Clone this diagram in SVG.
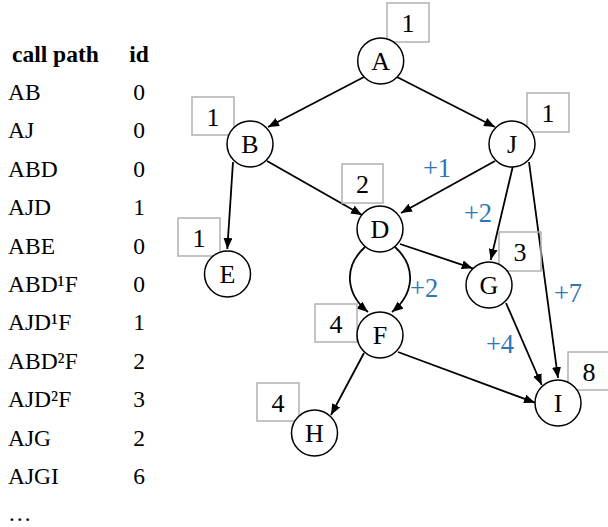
<svg xmlns="http://www.w3.org/2000/svg" width="608" height="527" viewBox="0 0 608 527">
<style>
text{font-family:"Liberation Serif","Times New Roman",serif;fill:#000}
.t{font-size:23.5px}
.h{font-size:23.5px;font-weight:bold}
.n{font-size:26px;text-anchor:middle}
.c{fill:#fff;stroke:#000;stroke-width:1.5}
.b{fill:none;stroke:#b0b0b0;stroke-width:1.5}
.bn{font-size:26px;text-anchor:middle}
.e{fill:none;stroke:#000;stroke-width:1.8;marker-end:url(#ar)}
.w{font-size:26.5px;fill:#2e75b6}
</style>
<defs>
<marker id="ar" markerUnits="userSpaceOnUse" markerWidth="12" markerHeight="10" refX="11" refY="4.5" orient="auto">
<path d="M0,0 L11,4.5 L0,9 z" fill="#000"/>
</marker>
</defs>
<g id="table">
<text class="h" x="12" y="62">call path</text>
<text class="h" x="139" y="62" text-anchor="middle">id</text>
<text class="t" x="8" y="100">AB</text><text class="t" x="139" y="100" text-anchor="middle">0</text>
<text class="t" x="8" y="138.4">AJ</text><text class="t" x="139" y="138.4" text-anchor="middle">0</text>
<text class="t" x="8" y="176.8">ABD</text><text class="t" x="139" y="176.8" text-anchor="middle">0</text>
<text class="t" x="8" y="215.2">AJD</text><text class="t" x="139" y="215.2" text-anchor="middle">1</text>
<text class="t" x="8" y="253.6">ABE</text><text class="t" x="139" y="253.6" text-anchor="middle">0</text>
<text class="t" x="8" y="292">ABD¹F</text><text class="t" x="139" y="292" text-anchor="middle">0</text>
<text class="t" x="8" y="330.4">AJD¹F</text><text class="t" x="139" y="330.4" text-anchor="middle">1</text>
<text class="t" x="8" y="368.8">ABD²F</text><text class="t" x="139" y="368.8" text-anchor="middle">2</text>
<text class="t" x="8" y="407.2">AJD²F</text><text class="t" x="139" y="407.2" text-anchor="middle">3</text>
<text class="t" x="8" y="445.6">AJG</text><text class="t" x="139" y="445.6" text-anchor="middle">2</text>
<text class="t" x="8" y="484">AJGI</text><text class="t" x="139" y="484" text-anchor="middle">6</text>
<text class="t" x="8" y="521">…</text>
</g>
<g id="connectors">
<path class="e" d="M364,77 L268,127"/>
<path class="e" d="M397,77 L495,127"/>
<path class="e" d="M267,161 L362,215"/>
<path class="e" d="M233,162 L227.3,249"/>
<path class="e" d="M495,161 L401,213"/>
<path class="e" d="M512.7,167 L490.7,260"/>
<path class="e" d="M529,162 L558,378"/>
<path class="e" d="M400,244 L472.7,268.3"/>
<path class="e" d="M365,247 C342,268 347,295 368,312"/>
<path class="e" d="M395,247 C418,268 413,295 392,312"/>
<path class="e" d="M506,303 L541.7,385"/>
<path class="e" d="M364,353 L331,415"/>
<path class="e" d="M398,352 L535,402.7"/>
</g>
<g id="weights">
<text class="w" x="437" y="177" text-anchor="middle">+1</text>
<text class="w" x="478" y="222" text-anchor="middle">+2</text>
<text class="w" x="410" y="297">+2</text>
<text class="w" x="568" y="302" text-anchor="middle">+7</text>
<text class="w" x="500" y="353" text-anchor="middle">+4</text>
</g>
<g id="node-A"><rect class="b" x="387" y="3" width="42" height="39"/><text class="bn" x="408" y="32">1</text><circle class="c" cx="380.7" cy="61" r="23"/><text class="n" x="380.7" y="70">A</text></g>
<g id="node-B"><rect class="b" x="192" y="97" width="42" height="38"/><text class="bn" x="213" y="125.5">1</text><circle class="c" cx="250" cy="144" r="23"/><text class="n" x="250" y="153">B</text></g>
<g id="node-J"><rect class="b" x="527" y="93" width="42" height="39"/><text class="bn" x="548" y="122">1</text><circle class="c" cx="512" cy="144" r="23"/><text class="n" x="512" y="153">J</text></g>
<g id="node-D"><rect class="b" x="342" y="164" width="41" height="39"/><text class="bn" x="362.5" y="193">2</text><circle class="c" cx="380" cy="229" r="23"/><text class="n" x="380" y="238">D</text></g>
<g id="node-E"><rect class="b" x="178" y="218" width="42" height="38"/><text class="bn" x="199" y="246.5">1</text><circle class="c" cx="227.5" cy="274" r="23"/><text class="n" x="227.5" y="283">E</text></g>
<g id="node-G"><rect class="b" x="499" y="232" width="42" height="39"/><text class="bn" x="520" y="261">3</text><circle class="c" cx="489" cy="285" r="23"/><text class="n" x="489" y="294">G</text></g>
<g id="node-F"><rect class="b" x="315" y="304" width="42" height="38"/><text class="bn" x="336" y="332.5">4</text><circle class="c" cx="380" cy="335" r="23"/><text class="n" x="380" y="344">F</text></g>
<g id="node-H"><rect class="b" x="257" y="383" width="42" height="38"/><text class="bn" x="278" y="411.5">4</text><circle class="c" cx="314.5" cy="433" r="23"/><text class="n" x="314.5" y="442">H</text></g>
<g id="node-I"><rect class="b" x="568" y="352" width="42" height="38"/><text class="bn" x="589" y="380.5">8</text><circle class="c" cx="558" cy="403" r="23"/><text class="n" x="558" y="412">I</text></g>
</svg>
